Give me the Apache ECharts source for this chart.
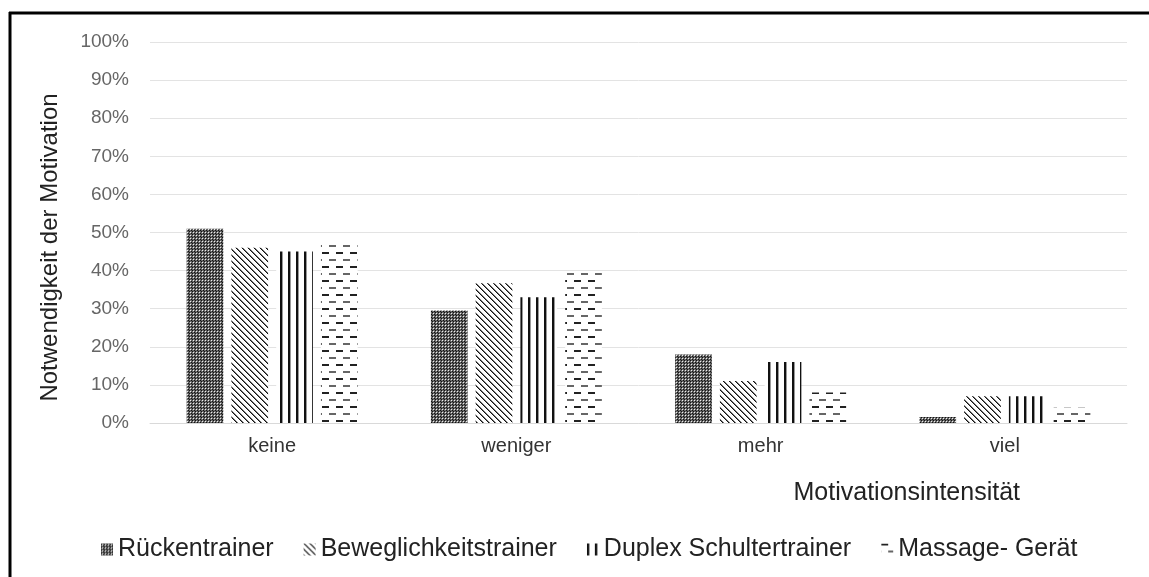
<!DOCTYPE html>
<html>
<head>
<meta charset="utf-8">
<script src="https://cdn.jsdelivr.net/npm/echarts@6/dist/echarts.min.js"></script>
<style>
html,body{margin:0;padding:0;background:#fff;}
#c{width:1149px;height:577px;}
</style>
</head>
<body>
<div id="c"></div>
<script>
var categories = ['keine', 'weniger', 'mehr', 'viel'];
var seriesNames = ['Rückentrainer', 'Beweglichkeitstrainer', 'Duplex Schultertrainer', 'Massage- Gerät'];
var rueckentrainer = [51, 29.5, 18, 1.6];
var beweglichkeitstrainer = [46, 36.7, 11, 7];
var duplexSchultertrainer = [45, 33, 16, 7];
var massageGeraet = [47, 39.4, 8, 4];
var yTicks = [0, 10, 20, 30, 40, 50, 60, 70, 80, 90, 100];

function makeCanvas(w, h, draw) {
  var c = document.createElement('canvas');
  c.width = w; c.height = h;
  var ctx = c.getContext('2d');
  ctx.fillStyle = '#fff';
  ctx.fillRect(0, 0, w, h);
  draw(ctx);
  return c;
}
var patDots = makeCanvas(3, 3, function (ctx) {
  ctx.fillStyle = '#666'; ctx.fillRect(0, 0, 3, 3);
  ctx.fillStyle = '#111'; ctx.fillRect(0, 0, 1, 1); ctx.fillRect(2, 2, 1, 1);
  ctx.fillStyle = '#eee'; ctx.fillRect(1, 1, 1, 1);
});
var patDiag = makeCanvas(6, 6, function (ctx) {
  for (var i = 0; i < 6; i++) {
    ctx.fillStyle = '#111'; ctx.fillRect(i, i, 1, 1);
    ctx.fillStyle = '#777'; ctx.fillRect((i + 1) % 6, i, 1, 1);
  }
});
var patVert = makeCanvas(8, 4, function (ctx) {
  ctx.fillStyle = '#111'; ctx.fillRect(0, 0, 2, 4);
  ctx.fillStyle = '#999'; ctx.fillRect(2, 0, 1, 4);
});
var patDash = makeCanvas(14, 14, function (ctx) {
  ctx.fillStyle = '#222'; ctx.fillRect(0, 0, 7, 2);
  ctx.fillStyle = '#666'; ctx.fillRect(7, 7, 7, 2);
});
var patterns = [patDots, patDiag, patVert, patDash];
var dataSets = [rueckentrainer, beweglichkeitstrainer, duplexSchultertrainer, massageGeraet];

var chart = echarts.init(document.getElementById('c'), null, {renderer: 'canvas'});
var series = seriesNames.map(function (n, i) {
  return {
    name: n,
    type: 'bar',
    data: dataSets[i],
    barGap: '22%',
    barCategoryGap: '30%',
    itemStyle: {color: {image: patterns[i], repeat: 'repeat'}},
    emphasis: {disabled: true}
  };
});
chart.setOption({
  animation: false,
  textStyle: {fontFamily: 'Liberation Sans'},
  grid: {left: 150, right: 22, top: 42, bottom: 154},
  legend: {
    data: seriesNames,
    top: 532,
    left: 96,
    itemWidth: 12,
    itemHeight: 12,
    itemGap: 30,
    icon: 'rect',
    textStyle: {fontSize: 25, color: '#222', fontFamily: 'Liberation Sans'}
  },
  xAxis: {
    type: 'category',
    data: categories,
    name: 'Motivationsintensität',
    nameLocation: 'end',
    nameGap: 0,
    nameTextStyle: {fontSize: 25, color: '#222', align: 'right', verticalAlign: 'top', padding: [58, 107, 0, 0]},
    axisLine: {lineStyle: {color: '#d9d9d9', width: 1}},
    axisTick: {show: false},
    axisLabel: {fontSize: 20, color: '#333', margin: 13}
  },
  yAxis: {
    type: 'value',
    min: yTicks[0],
    max: yTicks[yTicks.length - 1],
    interval: 10,
    name: 'Notwendigkeit der Motivation',
    nameLocation: 'middle',
    nameGap: 88,
    nameTextStyle: {fontSize: 24, color: '#222', padding: [0, 30, 0, 0]},
    axisLine: {show: false},
    axisTick: {show: false},
    axisLabel: {formatter: '{value}%', fontSize: 19, color: '#666', margin: 21},
    splitLine: {lineStyle: {color: '#e3e3e3', width: 1}}
  },
  series: series,
  graphic: [
    {type: 'line', shape: {x1: 9, y1: 13, x2: 1149, y2: 13}, style: {stroke: '#000', lineWidth: 3}, silent: true},
    {type: 'line', shape: {x1: 10, y1: 12, x2: 10, y2: 577}, style: {stroke: '#000', lineWidth: 3}, silent: true}
  ]
});
</script>
</body>
</html>
